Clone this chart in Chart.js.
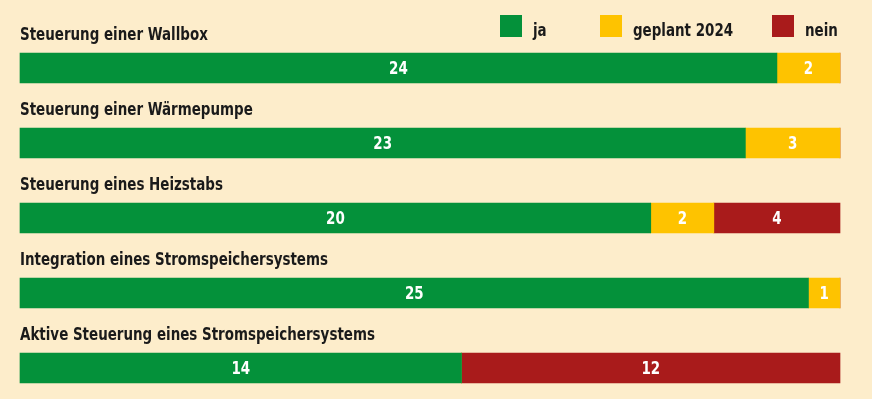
<!DOCTYPE html>
<html>
<head>
<meta charset="utf-8">
<script src="https://cdn.jsdelivr.net/npm/chart.js@4.4.1/dist/chart.umd.min.js"></script>
<style>
  body { margin: 0; background: #fdedcb; }
  .chart-container { width: 872px; height: 399px; }
</style>
</head>
<body>
<div class="chart-container"><canvas id="myChart" width="872" height="399"></canvas></div>
<script>
// data
const categories = [
  "Steuerung einer Wallbox",
  "Steuerung einer Wärmepumpe",
  "Steuerung eines Heizstabs",
  "Integration eines Stromspeichersystems",
  "Aktive Steuerung eines Stromspeichersystems"
];
const seriesNames = ["ja", "geplant 2024", "nein"];
const jaValues = [24, 23, 20, 25, 14];
const geplantValues = [2, 3, 2, 1, 0];
const neinValues = [0, 0, 4, 0, 12];

const FONT = '"DejaVu Sans Condensed", "Liberation Sans Narrow", sans-serif';
const colors = ["#04913a", "#fec300", "#a91b1b"];
const NARROW = 0.83; // squeeze text to look like a condensed face

function narrowText(c, text, x, y) {
  c.save();
  c.translate(x, y);
  c.scale(NARROW, 1);
  c.fillText(text, 0, 0);
  c.restore();
}

// labels above bars, values inside, legend top right
const drawLabels = {
  id: "drawLabels",
  afterDatasetsDraw(chart) {
    let c = chart.ctx;
    let yScale = chart.scales.y;
    let area = chart.chartArea;
    c.save();

    // category titles
    c.fillStyle = "#1a1a1a";
    c.font = "bold 18px " + FONT;
    c.textAlign = "left";
    c.textBaseline = "alphabetic";
    categories.forEach((name, i) => {
      let y = yScale.getPixelForValue(i);
      narrowText(c, name, area.left, y - 15 - 13);
    });

    // values
    c.fillStyle = "#ffffff";
    c.textAlign = "center";
    c.textBaseline = "middle";
    chart.data.datasets.forEach((ds, di) => {
      let meta = chart.getDatasetMeta(di);
      meta.data.forEach((bar, i) => {
        let v = ds.data[i];
        if (!v) return;
        narrowText(c, String(v), (bar.x + bar.base) / 2, bar.y + 1);
      });
    });

    // legend
    let legendX = [500, 600, 772];
    c.textAlign = "left";
    c.textBaseline = "alphabetic";
    chart.data.datasets.forEach((ds, di) => {
      c.fillStyle = ds.backgroundColor;
      c.fillRect(legendX[di], 15, 22, 22);
      c.fillStyle = "#1a1a1a";
      narrowText(c, ds.label, legendX[di] + 33, 36);
    });
    c.restore();
  }
};

const ctx = document.getElementById("myChart");
const myChart = new Chart(ctx, {
  type: "bar",
  data: {
    labels: categories,
    datasets: [
      { label: seriesNames[0], data: jaValues, backgroundColor: colors[0] },
      { label: seriesNames[1], data: geplantValues, backgroundColor: colors[1] },
      { label: seriesNames[2], data: neinValues, backgroundColor: colors[2] }
    ].map(d => Object.assign(d, { barThickness: 30, borderWidth: 0, clip: false }))
  },
  options: {
    indexAxis: "y",
    responsive: false,
    animation: false,
    layout: { padding: { left: 20, right: 32, top: 68, bottom: 31 } },
    scales: {
      x: { stacked: true, min: 0, max: 26, display: false },
      y: { stacked: true, offset: false, display: false }
    },
    plugins: {
      legend: { display: false },
      tooltip: { enabled: false }
    }
  },
  plugins: [drawLabels]
});
</script>
</body>
</html>
